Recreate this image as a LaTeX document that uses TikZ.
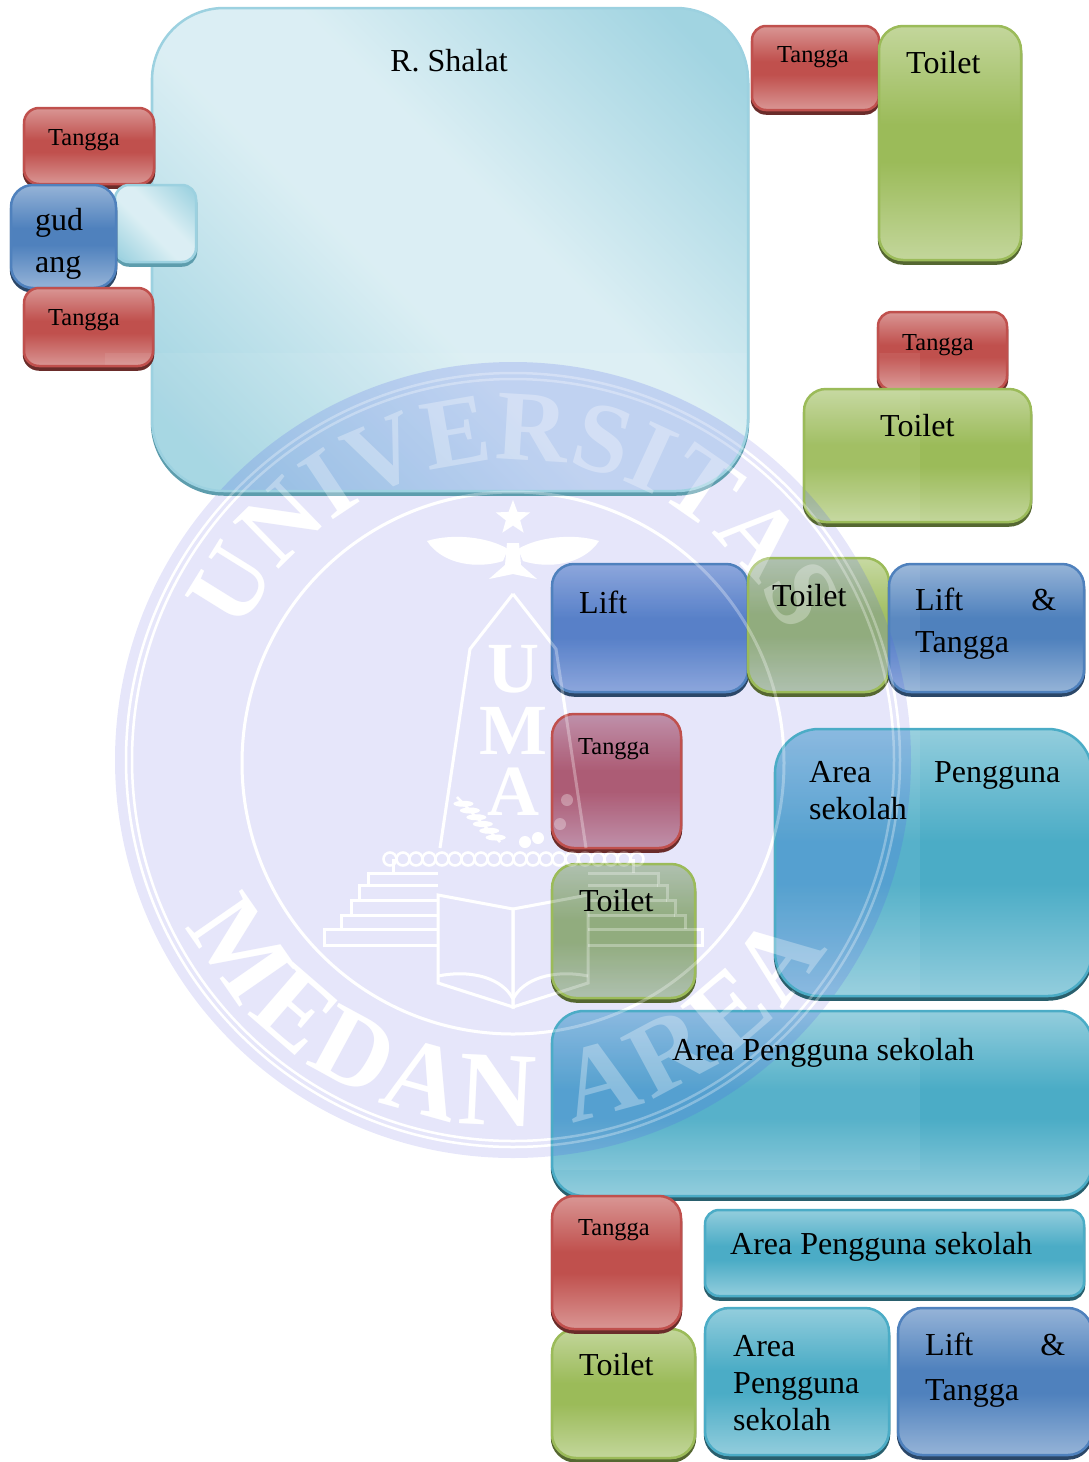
\documentclass[tikz,border=0pt]{standalone}
\usepackage{fontspec}
\setmainfont{Liberation Serif}
\usetikzlibrary{shapes.geometric,calc,decorations.text}

\definecolor{tanggared}{rgb}{0.753,0.314,0.302}
\definecolor{toiletgreen}{rgb}{0.608,0.733,0.349}
\definecolor{liftblue}{rgb}{0.31,0.506,0.741}
\definecolor{areaaqua}{rgb}{0.294,0.675,0.776}
\definecolor{sealblue}{rgb}{0.902,0.902,0.98}
\definecolor{sealtone}{rgb}{0.314,0.376,0.91}

\pgfdeclareverticalshading{redglass}{100bp}{color(0bp)=(tanggared!60!white); color(25bp)=(tanggared!60!white); color(38bp)=(tanggared!85!white); color(46bp)=(tanggared); color(54bp)=(tanggared); color(62bp)=(tanggared!85!white); color(75bp)=(tanggared!60!white); color(100bp)=(tanggared!60!white)}
\pgfdeclareverticalshading{greenglass}{100bp}{color(0bp)=(toiletgreen!60!white); color(25bp)=(toiletgreen!60!white); color(38bp)=(toiletgreen!85!white); color(46bp)=(toiletgreen); color(54bp)=(toiletgreen); color(62bp)=(toiletgreen!85!white); color(75bp)=(toiletgreen!60!white); color(100bp)=(toiletgreen!60!white)}
\pgfdeclareverticalshading{blueglass}{100bp}{color(0bp)=(liftblue!60!white); color(25bp)=(liftblue!60!white); color(38bp)=(liftblue!85!white); color(46bp)=(liftblue); color(54bp)=(liftblue); color(62bp)=(liftblue!85!white); color(75bp)=(liftblue!60!white); color(100bp)=(liftblue!60!white)}
\pgfdeclareverticalshading{aquaglass}{100bp}{color(0bp)=(areaaqua!60!white); color(25bp)=(areaaqua!60!white); color(38bp)=(areaaqua!85!white); color(46bp)=(areaaqua); color(54bp)=(areaaqua); color(62bp)=(areaaqua!85!white); color(75bp)=(areaaqua!60!white); color(100bp)=(areaaqua!60!white)}
\pgfdeclareverticalshading{paleglass}{100bp}{color(0bp)=(areaaqua!55!white); color(20bp)=(areaaqua!52!white); color(44bp)=(areaaqua!20!white); color(56bp)=(areaaqua!20!white); color(80bp)=(areaaqua!52!white); color(100bp)=(areaaqua!55!white)}

\newcommand{\sealfont}{\fontsize{100}{100}\selectfont\bfseries\color{white}}
\newcommand{\sealfontb}{\fontsize{106}{106}\selectfont\bfseries\color{white}}
\newcommand{\umafont}{\fontsize{72}{72}\selectfont\bfseries}
% the white marks of the seal, without its disc
\newcommand{\sealmarks}{%
  \draw[white, line width=2.5pt] (sealc) circle[radius=387] (sealc) circle[radius=381];
  \draw[white, line width=3pt] (513,-763) circle[radius=271];
  \path[decorate, decoration={text along path, text align={fit to path}, text={|\sealfont|UNIVERSITAS}}]
    ($(sealc)+(155:300)$) arc[start angle=155, end angle=25, radius=300];
  \path[decorate, decoration={text along path, text align={fit to path}, text={|\sealfontb|MEDAN AREA}}]
    ($(sealc)+(207:366)$) arc[start angle=207, end angle=329, radius=366];
  \node[star, star points=5, star point ratio=2.4, fill=white, inner sep=0, minimum size=36] (sealstar) at (513,-518) {};
  \foreach \s in {1,-1} {
    \begin{scope}[shift={(513,-541)}, xscale=\s]
      \fill[white] (86,0) .. controls (70,-24) and (35,-28) .. (10,-20) -- (5,-8)
        .. controls (25,4) and (60,8) .. (86,0);
      \fill[white] (0,-2) -- (6,-2) -- (8,-24) -- (24,-38) -- (0,-33) -- cycle;
    \end{scope}
    % obelisk, steps and book, mirrored on its axis
    \begin{scope}[shift={(513,-594)}, xscale=\s, white, line width=3pt]
      \draw (0,0) -- (43,-55) -- (73,-254);
      \draw (75,-279) -- (145,-279) -- (145,-291) -- (154,-291) -- (154,-306) -- (162,-306) -- (162,-321) -- (172,-321) -- (172,-335);
      \draw (75,-291) -- (145,-291) (75,-306) -- (154,-306) (75,-321) -- (162,-321);
      \draw (75,-335) -- (189,-335) -- (189,-351) -- (75,-351);
      \draw (0,-315) -- (75,-301) -- (75,-389) -- (0,-413) -- cycle;
      \draw (0,-405) .. controls (10,-385) and (40,-375) .. (75,-382);
      \draw (120,-265) -- (120,-279);
    \end{scope}
  }
  \node[white, font=\umafont, inner sep=0] (sealu) at (513,-669) {U};
  \node[white, font=\umafont, inner sep=0] (sealm) at (513,-731) {M};
  \node[white, font=\umafont, inner sep=0] (seala) at (513,-792) {A};
  \foreach \x in {390,403,...,640} {
    \draw[white, line width=2.5pt] (\x,-859) circle[radius=6.5];
  }
  \foreach \x/\y in {567/-800,560/-824,538/-838,525/-842} {
    \fill[white] (\x,\y) circle[radius=6];
  }
  \draw[white, line width=2.5pt] (457,-797) -- (500,-842);
  \foreach \t in {.15,.3,.45,.6,.75,.9} {
    \fill[white] ($(457,-797)!\t!(500,-842)$) ellipse[x radius=10, y radius=3];
  }
}

\begin{document}
\begin{tikzpicture}[x=1pt, y=1pt]
\tikzset{
  base/.style={anchor=north west, inner sep=0, outer sep=0, line width=2.5pt, shade,
    path picture={\fill[sharp corners, white, opacity=.07] (sealtl) rectangle (sealbr);
      \fill[sealtone, opacity=.2] (sealc) circle[radius=398];}},
  redbox/.style={base, shading=redglass, draw=tanggared,
    preaction={draw=tanggared!55!black, fill=tanggared!55!black, transform canvas={yshift=-3.5pt}}},
  greenbox/.style={base, shading=greenglass, draw=toiletgreen,
    preaction={draw=toiletgreen!55!black, fill=toiletgreen!55!black, transform canvas={yshift=-3.5pt}}},
  bluebox/.style={base, shading=blueglass, draw=liftblue,
    preaction={draw=liftblue!55!black, fill=liftblue!55!black, transform canvas={yshift=-3.5pt}}},
  aquabox/.style={base, shading=aquaglass, draw=areaaqua,
    preaction={draw=areaaqua!55!black, fill=areaaqua!55!black, transform canvas={yshift=-3.5pt}}},
  glassbox/.style={base, shading=paleglass, shading angle=-45, draw=areaaqua!55!white,
    preaction={draw=areaaqua!65!gray, fill=areaaqua!65!gray, transform canvas={yshift=-3.5pt}}},
  bigtext/.style={inner sep=0, font=\fontsize{32}{37}\selectfont, anchor=base west},
  smalltext/.style={inner sep=0, font=\fontsize{24.4}{28}\selectfont, anchor=base west},
  blocktext/.style={inner sep=0, font=\fontsize{32}{37}\selectfont, anchor=north west, align=left}
}
\useasboundingbox (0,0) rectangle (1088,-1462);
\coordinate (sealc) at (513,-760);
\coordinate (sealtl) at (105,-353);
\coordinate (sealbr) at (920,-1170);
% -------------------------------------------------
% Seal, under the boxes
\fill[sealblue] (sealc) circle[radius=398];
\sealmarks
% -------------------------------------------------
% Boxes
\node[glassbox, minimum width=596, minimum height=483, rounded corners=72] (shalat) at (152,-8) {};
\node[redbox, minimum width=127, minimum height=84, rounded corners=14] (tangga1) at (752,-26) {};
\node[greenbox, minimum width=142, minimum height=234, rounded corners=24] (toilet1) at (879,-26) {};
\node[redbox, minimum width=130, minimum height=76, rounded corners=15] (tangga2) at (24,-108) {};
\node[glassbox, minimum width=81, minimum height=77, rounded corners=14] (kecil) at (115,-185) {};
\node[bluebox, minimum width=105, minimum height=103, rounded corners=22] (gudang) at (11,-185) {};
\node[redbox, minimum width=129, minimum height=78, rounded corners=15] (tangga3) at (24,-288) {};
\node[redbox, minimum width=129, minimum height=78, rounded corners=14] (tangga4) at (878,-312) {};
\node[greenbox, minimum width=227, minimum height=133, rounded corners=22] (toilet2) at (804,-389) {};
\node[bluebox, minimum width=196, minimum height=128, rounded corners=22] (lift1) at (552,-564) {};
\node[greenbox, minimum width=141, minimum height=134, rounded corners=24] (toilet3) at (748,-558) {};
\node[bluebox, minimum width=195, minimum height=128, rounded corners=22] (lift2) at (889,-564) {};
\node[redbox, minimum width=129, minimum height=134, rounded corners=22] (tangga5) at (552,-714) {};
\node[greenbox, minimum width=143, minimum height=134, rounded corners=24] (toilet4) at (552,-864) {};
\node[aquabox, minimum width=317, minimum height=267, rounded corners=44] (area1) at (775,-729) {};
\node[aquabox, minimum width=540, minimum height=185, rounded corners=32] (area2) at (552,-1011) {};
\node[greenbox, minimum width=143, minimum height=129, rounded corners=24] (toilet5) at (552,-1329) {};
\node[redbox, minimum width=129, minimum height=133, rounded corners=22] (tangga6) at (552,-1196) {};
\node[aquabox, minimum width=379, minimum height=86, rounded corners=14] (area3) at (705,-1210) {};
\node[aquabox, minimum width=184, minimum height=147, rounded corners=24] (area4) at (705,-1308) {};
\node[bluebox, minimum width=194, minimum height=147, rounded corners=24] (lift3) at (898,-1308) {};
% -------------------------------------------------
% Seal again, faint, over the boxes
\begin{scope}[opacity=.3]
  \sealmarks
\end{scope}
% -------------------------------------------------
% Labels
\node[bigtext, anchor=base] (shalattxt) at ([shift={(297,-63)}]shalat.north west) {R. Shalat};
\node[smalltext] (tangga1txt) at ([shift={(25,-36)}]tangga1.north west) {Tangga};
\node[bigtext] (toilet1txt) at ([shift={(27,-47)}]toilet1.north west) {Toilet};
\node[smalltext] (tangga2txt) at ([shift={(24,-37)}]tangga2.north west) {Tangga};
\node[blocktext, font=\fontsize{32}{42}\selectfont] (gudangtxt) at ([shift={(24,-23)}]gudang.north west) {gud\\ang};
\node[smalltext] (tangga3txt) at ([shift={(24,-37)}]tangga3.north west) {Tangga};
\node[smalltext] (tangga4txt) at ([shift={(24,-38)}]tangga4.north west) {Tangga};
\node[bigtext] (toilet2txt) at ([shift={(76,-47)}]toilet2.north west) {Toilet};
\node[bigtext] (lift1txt) at ([shift={(27,-49)}]lift1.north west) {Lift};
\node[bigtext] (toilet3txt) at ([shift={(24,-48)}]toilet3.north west) {Toilet};
\node[blocktext, text width=141, font=\fontsize{32}{42}\selectfont] (lift2txt) at ([shift={(26,-24)}]lift2.north west) {Lift\hfill\&\\Tangga};
\node[smalltext] (tangga5txt) at ([shift={(26,-40)}]tangga5.north west) {Tangga};
\node[bigtext] (toilet4txt) at ([shift={(27,-47)}]toilet4.north west) {Toilet};
\node[blocktext, text width=251] (area1txt) at ([shift={(34,-32)}]area1.north west) {Area\hfill Pengguna\\sekolah};
\node[bigtext] (area2txt) at ([shift={(120,-49)}]area2.north west) {Area Pengguna sekolah};
\node[smalltext] (tangga6txt) at ([shift={(26,-39)}]tangga6.north west) {Tangga};
\node[bigtext] (toilet5txt) at ([shift={(27,-46)}]toilet5.north west) {Toilet};
\node[bigtext] (area3txt) at ([shift={(25,-44)}]area3.north west) {Area Pengguna sekolah};
\node[blocktext] (area4txt) at ([shift={(28,-27)}]area4.north west) {Area\\Pengguna\\sekolah};
\node[blocktext, text width=140, font=\fontsize{32}{45}\selectfont] (lift3txt) at ([shift={(27,-25)}]lift3.north west) {Lift\hfill\&\\Tangga};
% -------------------------------------------------
\end{tikzpicture}
\end{document}
